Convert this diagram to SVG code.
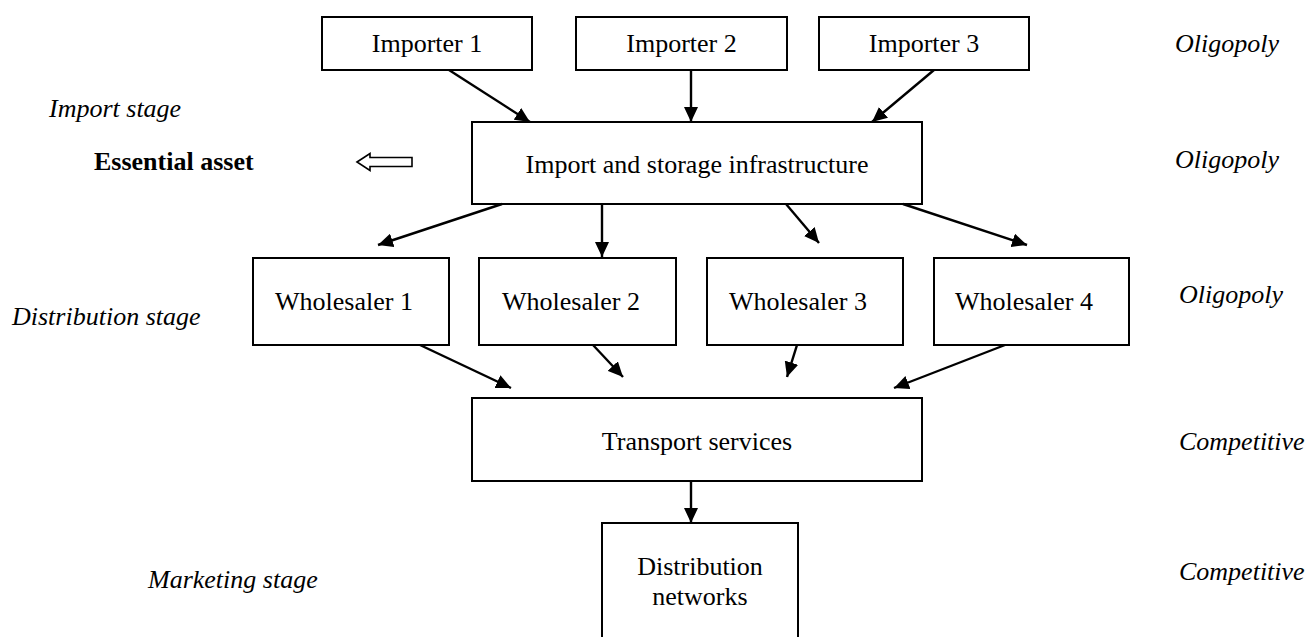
<svg xmlns="http://www.w3.org/2000/svg" width="1306" height="637" viewBox="0 0 1306 637">
  <style>
    text { font-family: "Liberation Serif", "Times New Roman", serif; font-size: 26px; fill: #000; }
    .c { text-anchor: middle; }
    .i { font-style: italic; }
    .b { font-weight: bold; }
    .box { fill: #fff; stroke: #000; stroke-width: 2; }
    .link { fill: none; stroke: #000; stroke-width: 2.4; marker-end: url(#head); }
  </style>
  <defs>
    <marker id="head" markerUnits="userSpaceOnUse" markerWidth="16" markerHeight="14" refX="15" refY="7" orient="auto">
      <path d="M0,0 L15,7 L0,14 z" fill="#000"/>
    </marker>
  </defs>

  <rect width="1306" height="637" fill="#fff"/>

  <!-- stage labels on the left -->
  <g id="stage-labels">
    <text class="i" x="49" y="117">Import stage</text>
    <text class="i" x="12" y="325">Distribution stage</text>
    <text class="i" x="148" y="588">Marketing stage</text>
  </g>

  <!-- market structure labels on the right -->
  <g id="market-labels">
    <text class="i" x="1175" y="52">Oligopoly</text>
    <text class="i" x="1175" y="168">Oligopoly</text>
    <text class="i" x="1179" y="303">Oligopoly</text>
    <text class="i" x="1179" y="450">Competitive</text>
    <text class="i" x="1179" y="580">Competitive</text>
  </g>

  <!-- essential asset marker -->
  <g id="essential-asset">
    <text class="b" x="94" y="170">Essential asset</text>
    <path d="M357,162 L370,153.5 L370,157.5 L412,157.5 L412,166.5 L370,166.5 L370,170.5 Z" fill="#fff" stroke="#000" stroke-width="1.6" stroke-linejoin="miter"/>
  </g>

  <g id="importer-1">
    <rect class="box" x="322" y="17" width="210" height="53"/>
    <text class="c" x="427" y="52">Importer 1</text>
  </g>
  <g id="importer-2">
    <rect class="box" x="576" y="17" width="211" height="53"/>
    <text class="c" x="681.5" y="52">Importer 2</text>
  </g>
  <g id="importer-3">
    <rect class="box" x="819" y="17" width="210" height="53"/>
    <text class="c" x="924" y="52">Importer 3</text>
  </g>

  <g id="infrastructure">
    <rect class="box" x="472" y="122" width="450" height="82"/>
    <text class="c" x="697" y="173">Import and storage infrastructure</text>
  </g>

  <g id="wholesaler-1">
    <rect class="box" x="253" y="258" width="196" height="87"/>
    <text x="275" y="310">Wholesaler 1</text>
  </g>
  <g id="wholesaler-2">
    <rect class="box" x="479" y="258" width="197" height="87"/>
    <text x="502" y="310">Wholesaler 2</text>
  </g>
  <g id="wholesaler-3">
    <rect class="box" x="707" y="258" width="196" height="87"/>
    <text x="729" y="310">Wholesaler 3</text>
  </g>
  <g id="wholesaler-4">
    <rect class="box" x="934" y="258" width="195" height="87"/>
    <text x="955" y="310">Wholesaler 4</text>
  </g>

  <g id="transport">
    <rect class="box" x="472" y="398" width="450" height="83"/>
    <text class="c" x="697" y="450">Transport services</text>
  </g>

  <g id="distribution-networks">
    <rect class="box" x="602" y="523" width="196" height="130"/>
    <text class="c" x="700" y="575">Distribution</text>
    <text class="c" x="700" y="605">networks</text>
  </g>

  <!-- flows between stages -->
  <g id="connectors">
    <path class="link" d="M449,70 L530,122"/>
    <path class="link" d="M691,70 L691,122"/>
    <path class="link" d="M934,70 L872,122"/>
    <path class="link" d="M502,204 L378,245"/>
    <path class="link" d="M602,204 L602,257"/>
    <path class="link" d="M786,204 L819,243"/>
    <path class="link" d="M903,204 L1027,245"/>
    <path class="link" d="M420,345 L511,388"/>
    <path class="link" d="M593,345 L623,377"/>
    <path class="link" d="M797,345 L787,377"/>
    <path class="link" d="M1005,345 L894,388"/>
    <path class="link" d="M691,481 L691,523"/>
  </g>
</svg>
